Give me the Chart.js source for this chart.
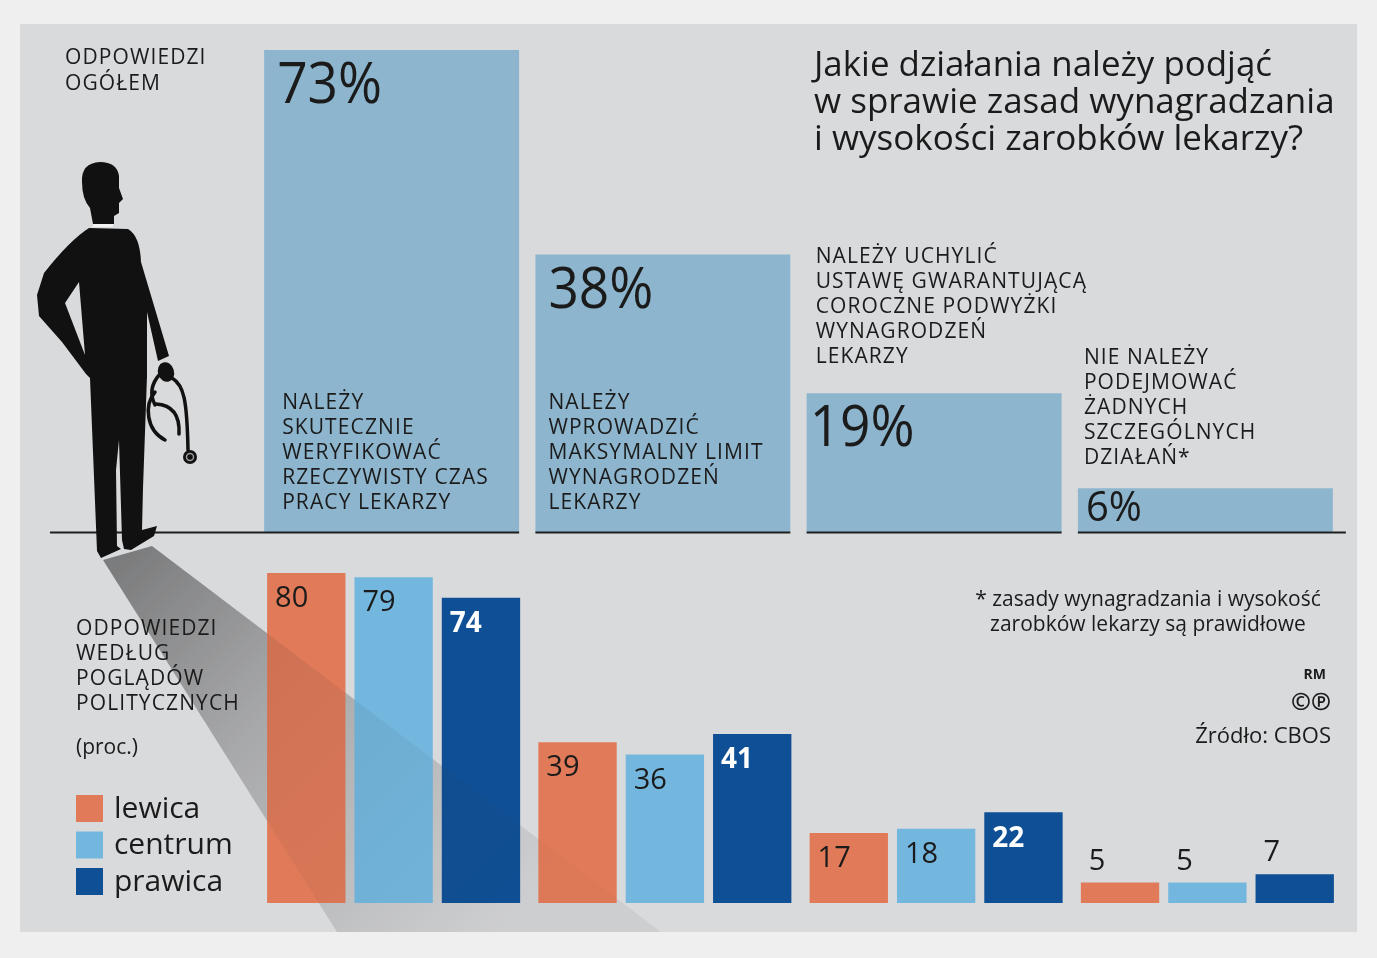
<!DOCTYPE html>
<html>
<head>
<meta charset="utf-8">
<script src="https://cdn.jsdelivr.net/npm/chart.js@4.4.1/dist/chart.umd.min.js"></script>
<style>
  html, body { margin: 0; padding: 0; background: #efefef; }
  #wrap { position: relative; width: 1377px; height: 958px; overflow: hidden; }
  #panel { position: absolute; left: 20px; top: 24px; width: 1337px; height: 908px; background: #d9dadc; }
  canvas { position: absolute; left: 0; top: 0; }
</style>
</head>
<body>
<div id="wrap">
  <div id="panel"></div>
  <canvas id="topChart" width="1377" height="958"></canvas>
  <canvas id="bottomChart" width="1377" height="958"></canvas>
</div>
<script>
// answers (one entry per bar group)
const answerKeys = ['weryfikacja', 'limit', 'uchylenie', 'bez zmian'];
const answerLines = [
  ['NALEŻY', 'SKUTECZNIE', 'WERYFIKOWAĆ', 'RZECZYWISTY CZAS', 'PRACY LEKARZY'],
  ['NALEŻY', 'WPROWADZIĆ', 'MAKSYMALNY LIMIT', 'WYNAGRODZEŃ', 'LEKARZY'],
  ['NALEŻY UCHYLIĆ', 'USTAWĘ GWARANTUJĄCĄ', 'COROCZNE PODWYŻKI', 'WYNAGRODZEŃ', 'LEKARZY'],
  ['NIE NALEŻY', 'PODEJMOWAĆ', 'ŻADNYCH', 'SZCZEGÓLNYCH', 'DZIAŁAŃ*']
];
const overallValues = [73, 38, 19, 6];

// by political views
const groupNames = ['lewica', 'centrum', 'prawica'];
const lewicaValues = [80, 39, 17, 5];
const centrumValues = [79, 36, 18, 5];
const prawicaValues = [74, 41, 22, 7];

const titleLines = ['Jakie działania należy podjąć', 'w sprawie zasad wynagradzania', 'i wysokości zarobków lekarzy?'];
const noteLines = ['* zasady wynagradzania i wysokość', 'zarobków lekarzy są prawidłowe'];

const TOP_BAR = '#8db6ce';
const GROUP_COLORS = ['#e07a58', '#73b7df', '#0f4f95'];
const INK = '#1b1b1b';
const PANEL = '#d9dadc';
const SANS = '"Open Sans", "Noto Sans", sans-serif';

function txt(ctx, s, x, y, font, color, align, maxW, spacing) {
  ctx.font = font;
  ctx.fillStyle = color;
  ctx.textAlign = align || 'left';
  ctx.textBaseline = 'middle';
  ctx.letterSpacing = spacing || '0px';
  if (maxW) ctx.fillText(s, x, y, maxW);
  else ctx.fillText(s, x, y);
  ctx.letterSpacing = '0px';
}

function caps(ctx, s, x, y) {
  txt(ctx, s, x, y, '21px ' + SANS, INK, 'left', null, '1.1px');
}

function drawFigure(ctx) {
  ctx.save();
  ctx.fillStyle = '#111';
  // head
  ctx.beginPath();
  ctx.moveTo(82, 182);
  ctx.quadraticCurveTo(81, 163, 100, 162);
  ctx.quadraticCurveTo(117, 162, 119, 176);
  ctx.lineTo(119, 188);
  ctx.lineTo(123, 199);
  ctx.lineTo(119, 203);
  ctx.lineTo(119, 213);
  ctx.lineTo(114, 216);
  ctx.lineTo(114, 224);
  ctx.lineTo(93, 224);
  ctx.lineTo(90, 208);
  ctx.quadraticCurveTo(82, 199, 82, 182);
  ctx.fill();
  // body, arms, legs
  ctx.beginPath();
  ctx.moveTo(89, 228);
  ctx.lineTo(128, 229);
  ctx.quadraticCurveTo(140, 236, 141, 262);
  ctx.lineTo(169, 356);
  ctx.lineTo(158, 361);
  ctx.lineTo(147, 312);
  ctx.lineTo(147, 376);
  ctx.lineTo(143, 488);
  ctx.lineTo(142, 530);
  ctx.lineTo(157, 526);
  ctx.lineTo(154, 536);
  ctx.lineTo(131, 550);
  ctx.lineTo(124, 549);
  ctx.lineTo(122, 540);
  ctx.lineTo(119, 440);
  ctx.lineTo(116, 470);
  ctx.lineTo(117, 546);
  ctx.lineTo(121, 549);
  ctx.lineTo(101, 558);
  ctx.lineTo(97, 551);
  ctx.lineTo(90, 378);
  ctx.lineTo(86, 374);
  ctx.lineTo(62, 342);
  ctx.lineTo(39, 316);
  ctx.lineTo(37, 295);
  ctx.lineTo(44, 273);
  ctx.quadraticCurveTo(70, 240, 89, 228);
  ctx.fill();
  // gap between arm and torso
  ctx.fillStyle = PANEL;
  ctx.beginPath();
  ctx.moveTo(65, 303);
  ctx.lineTo(79, 282);
  ctx.lineTo(85, 355);
  ctx.closePath();
  ctx.fill();
  // white collar
  ctx.fillStyle = '#f2f2f2';
  ctx.fillRect(93, 224, 20, 3);
  // hand
  ctx.fillStyle = '#111';
  ctx.beginPath();
  ctx.ellipse(166, 372, 8, 10, -0.3, 0, Math.PI * 2);
  ctx.fill();
  // stethoscope
  ctx.strokeStyle = '#111';
  ctx.lineWidth = 3.5;
  ctx.lineCap = 'round';
  ctx.beginPath();
  ctx.moveTo(160, 374);
  ctx.bezierCurveTo(150, 385, 150, 395, 155, 405);
  ctx.stroke();
  ctx.beginPath();
  ctx.moveTo(155, 392);
  ctx.bezierCurveTo(144, 405, 146, 430, 165, 440);
  ctx.stroke();
  ctx.beginPath();
  ctx.moveTo(156, 404);
  ctx.bezierCurveTo(172, 405, 180, 415, 179, 434);
  ctx.stroke();
  ctx.beginPath();
  ctx.moveTo(172, 378);
  ctx.bezierCurveTo(184, 385, 187, 400, 188, 450);
  ctx.stroke();
  ctx.beginPath();
  ctx.arc(190, 457, 7, 0, Math.PI * 2);
  ctx.fill();
  ctx.strokeStyle = '#9a9a9a';
  ctx.lineWidth = 1.5;
  ctx.beginPath();
  ctx.arc(190, 457, 3.5, 0, Math.PI * 2);
  ctx.stroke();
  ctx.restore();
}

// shadow cast from the figure's feet
function shadowPath(ctx) {
  const g = ctx.createLinearGradient(125, 555, 500, 932);
  g.addColorStop(0, 'rgba(30,30,30,0.5)');
  g.addColorStop(0.4, 'rgba(40,40,40,0.28)');
  g.addColorStop(1, 'rgba(60,60,60,0.07)');
  ctx.fillStyle = g;
  ctx.beginPath();
  ctx.moveTo(103, 560);
  ctx.lineTo(152, 546);
  ctx.lineTo(661, 932);
  ctx.lineTo(337, 932);
  ctx.closePath();
}

const topDecor = {
  id: 'topDecor',
  afterDatasetsDraw(chart) {
    const ctx = chart.ctx;
    const area = chart.chartArea;
    const bars = chart.getDatasetMeta(0).data;
    ctx.save();
    // baseline segments under each bar
    ctx.strokeStyle = '#1e1e1e';
    ctx.lineWidth = 2;
    bars.forEach((el, i) => {
      let l = el.x - el.width / 2;
      let r = el.x + el.width / 2;
      if (i === 0) l = 50;
      if (i === bars.length - 1) r += 13;
      ctx.beginPath();
      ctx.moveTo(l, el.base + 0.5);
      ctx.lineTo(r, el.base + 0.5);
      ctx.stroke();
    });
    bars.forEach((el, i) => {
      const left = el.x - el.width / 2;
      const top = Math.max(el.y, area.top);
      const h = el.base - top;
      const tall = h > 100;
      // percentage
      const pFont = tall ? '57px ' + SANS : '42px ' + SANS;
      const pX = overallValues[i] > 30 ? left + 13 : left + (tall ? 3 : 8);
      txt(ctx, overallValues[i] + '%', pX, top + (tall ? 37 : 21), pFont, INK, 'left', tall ? 105 : 56);
      // answer text
      const lines = answerLines[i];
      const inside = overallValues[i] > 30;
      const lastY = inside ? el.base - 29 : top - (i === 2 ? 36 : 30);
      const tx = inside ? left + (i === 0 ? 18 : 13) : left + (i === 2 ? 9 : 6);
      lines.forEach((s, k) => caps(ctx, s, tx, lastY - (lines.length - 1 - k) * 25));
    });
    // title
    const tw = [458, 523, 491];
    titleLines.forEach((s, k) => {
      txt(ctx, s, 814, 66 + k * 37, '35px ' + SANS, INK, 'left', tw[k]);
    });
    caps(ctx, 'ODPOWIEDZI', 65, 58);
    caps(ctx, 'OGÓŁEM', 65, 84);
    drawFigure(ctx);
    ctx.restore();
  }
};

const bottomDecor = {
  id: 'bottomDecor',
  beforeDatasetsDraw(chart) {
    const ctx = chart.ctx;
    ctx.save();
    shadowPath(ctx);
    ctx.fill();
    ctx.restore();
  },
  afterDatasetsDraw(chart) {
    const ctx = chart.ctx;
    ctx.save();
    // the shadow shows only faintly on the bars
    ctx.save();
    ctx.beginPath();
    chart.data.datasets.forEach((ds, d) => {
      chart.getDatasetMeta(d).data.forEach(el => {
        ctx.rect(el.x - el.width / 2, el.y, el.width, el.base - el.y);
      });
    });
    ctx.clip();
    ctx.globalAlpha = 0.3;
    shadowPath(ctx);
    ctx.fill();
    ctx.restore();

    // value labels
    chart.data.datasets.forEach((ds, d) => {
      chart.getDatasetMeta(d).data.forEach((el, i) => {
        const v = ds.data[i];
        const left = el.x - el.width / 2;
        const above = v < 10;
        const y = above ? el.y - 21 : el.y + 26;
        const white = d === 2 && !above;
        txt(ctx, String(v), left + 8, y, (white ? 'bold ' : '') + '29px ' + SANS,
          white ? '#ffffff' : INK, 'left', white ? 32 : 40);
      });
    });

    // side texts
    ['ODPOWIEDZI', 'WEDŁUG', 'POGLĄDÓW', 'POLITYCZNYCH'].forEach((s, k) => caps(ctx, s, 76, 629 + k * 25));
    txt(ctx, '(proc.)', 76, 748, '21px ' + SANS, INK, 'left');

    // legend
    groupNames.forEach((name, k) => {
      ctx.fillStyle = GROUP_COLORS[k];
      ctx.fillRect(76, 795 + k * 36.5, 27, 27);
      txt(ctx, name, 114, 809 + k * 36.5, '30px ' + SANS, INK, 'left');
    });

    // notes
    noteLines.forEach((s, k) => {
      txt(ctx, s, 1148, 600 + k * 25, '21px ' + SANS, INK, 'center', 366);
    });
    txt(ctx, 'RM', 1326, 675, 'bold 14px ' + SANS, INK, 'right');
    txt(ctx, '©℗', 1331, 703, 'bold 24px ' + SANS, INK, 'right');
    txt(ctx, 'Źródło: CBOS', 1331, 737, '22px ' + SANS, INK, 'right');
    ctx.restore();
  }
};

new Chart(document.getElementById('topChart'), {
  type: 'bar',
  data: {
    labels: answerKeys,
    datasets: [{
      label: 'ogółem',
      data: overallValues,
      backgroundColor: TOP_BAR,
      borderWidth: 0,
      categoryPercentage: 1,
      barPercentage: 0.94
    }]
  },
  options: {
    responsive: false,
    animation: false,
    layout: { padding: { left: 256, right: 36, top: 50, bottom: 426 } },
    scales: {
      x: { display: false },
      y: { display: false, min: 0, max: 66 }
    },
    plugins: { legend: { display: false }, tooltip: { enabled: false } }
  },
  plugins: [topDecor]
});

new Chart(document.getElementById('bottomChart'), {
  type: 'bar',
  data: {
    labels: answerKeys,
    datasets: [lewicaValues, centrumValues, prawicaValues].map((vals, k) => ({
      label: groupNames[k],
      data: vals,
      backgroundColor: GROUP_COLORS[k],
      borderWidth: 0,
      categoryPercentage: 0.966,
      barPercentage: 0.897
    }))
  },
  options: {
    responsive: false,
    animation: false,
    layout: { padding: { left: 258, right: 34, top: 540, bottom: 55 } },
    scales: {
      x: { display: false },
      y: { display: false, min: 0, max: 88 }
    },
    plugins: { legend: { display: false }, tooltip: { enabled: false } }
  },
  plugins: [bottomDecor]
});
</script>
</body>
</html>
